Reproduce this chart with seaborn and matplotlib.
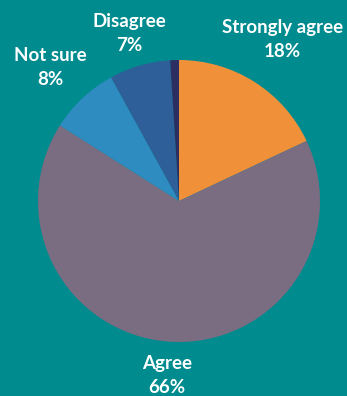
import matplotlib
matplotlib.use("Agg")
import matplotlib.pyplot as plt
import seaborn as sns

# Survey responses, clockwise from 12 o'clock
categories = ["Strongly agree", "Agree", "Not sure", "Disagree", "Strongly disagree"]
shares = [18, 66, 8, 7, 1]
show_label = [True, True, True, True, False]
slice_colors = ["#F0913A", "#7A6C81", "#2F8CC0", "#2F5F98", "#2C2E62"]
background = "#008B8F"

sns.set_theme(style="white")
plt.rcParams["font.family"] = ["Lato", "DejaVu Sans"]

fig = plt.figure(figsize=(3.47, 3.96), dpi=100, facecolor=background)
ax = fig.add_axes([0, 0, 1, 1])
ax.set_facecolor(background)

wedges, _ = ax.pie(
    shares,
    colors=slice_colors,
    startangle=90,
    counterclock=False,
    radius=1.0,
    center=(0, 0),
    wedgeprops=dict(linewidth=0),
)

# Label placement (data units, pie radius = 1)
label_pos = {
    "Strongly agree": (0.735, 1.145),
    "Agree": (-0.085, -1.24),
    "Not sure": (-0.915, 0.945),
    "Disagree": (-0.355, 1.185),
}
for cat, val, show in zip(categories, shares, show_label):
    if not show:
        continue
    x, y = label_pos[cat]
    ax.text(x, y, f"{cat}\n{val}%", ha="center", va="center",
            color="white", fontsize=13.5, fontweight="bold", linespacing=1.5)

ax.set_xlim(-179 / 141, (347 - 179) / 141)
ax.set_ylim(-(396 - 201) / 141, 201 / 141)
ax.set_aspect("equal")
ax.axis("off")

fig.savefig("out.png", dpi=100, facecolor=background)
